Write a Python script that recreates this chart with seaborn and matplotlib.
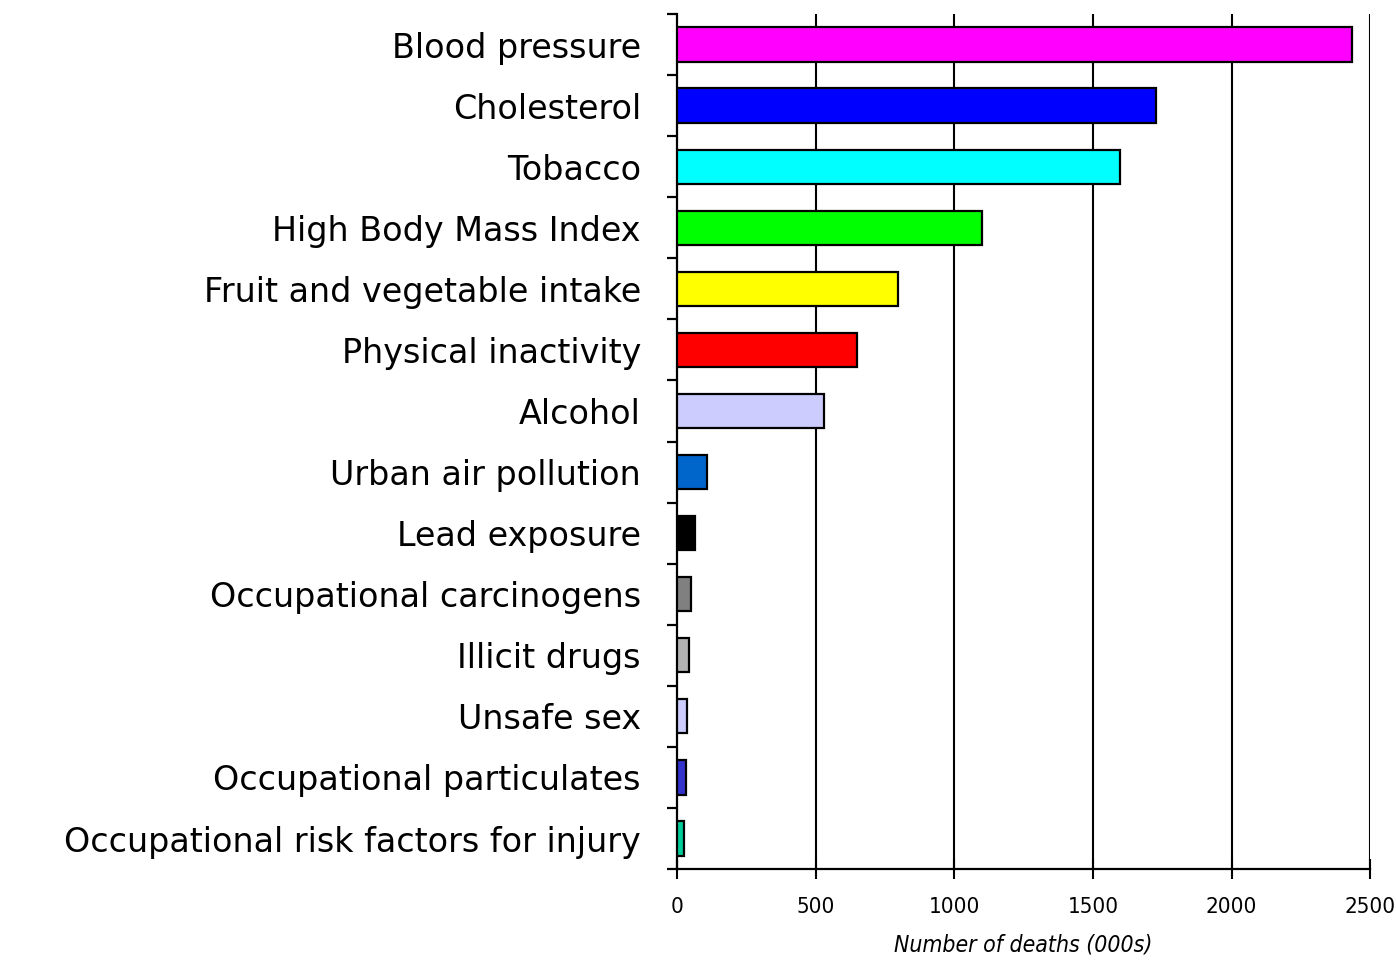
import matplotlib
matplotlib.use("Agg")
import matplotlib.pyplot as plt
import seaborn as sns
import pandas as pd
from matplotlib.ticker import FixedLocator
from matplotlib.font_manager import FontProperties

# === data ===
risk_factors = [
    "Blood pressure", "Cholesterol", "Tobacco", "High Body Mass Index",
    "Fruit and vegetable intake", "Physical inactivity", "Alcohol",
    "Urban air pollution", "Lead exposure", "Occupational carcinogens",
    "Illicit drugs", "Unsafe sex", "Occupational particulates",
    "Occupational risk factors for injury",
]
deaths = [2435, 1728, 1598, 1100, 797, 649, 530, 107, 65, 50, 44, 37, 31, 24]
bar_colors = [
    "#FF00FF", "#0000FF", "#00FFFF", "#00FF00", "#FFFF00", "#FF0000", "#CCCCFF",
    "#0066CC", "#000000", "#808080", "#B3B3B3", "#CCCCFF", "#3333CC", "#00CC99",
]
x_ticks = [0, 500, 1000, 1500, 2000, 2500]

df = pd.DataFrame({"factor": risk_factors, "deaths": deaths})

sns.set_style("white", {"xtick.bottom": True, "ytick.left": True,
                        "text.color": "black", "xtick.color": "black",
                        "ytick.color": "black", "axes.labelcolor": "black"})
plt.rcParams["font.family"] = ["DejaVu Sans"]

label_font = FontProperties(family="DejaVu Sans", stretch="normal", size=24)
tick_font = FontProperties(family="DejaVu Sans", stretch="condensed", size=16)
xlab_font = FontProperties(family="DejaVu Sans", stretch="condensed",
                           style="italic", size=16.5)

fig = plt.figure(figsize=(13.96, 9.64), dpi=100)
ax = fig.add_axes([0.485, 0.0985, 0.4965, 0.887])

sns.barplot(data=df, y="factor", x="deaths", hue="factor", palette=bar_colors,
            legend=False, width=0.56, edgecolor="black", linewidth=1.6,
            saturation=1, ax=ax, zorder=3)

ax.set_xlim(0, 2500)
ax.set_ylim(len(risk_factors) - 0.5, -0.5)

# vertical grid lines
for xv in x_ticks[1:]:
    ax.axvline(xv, color="black", lw=1.5, zorder=1)

for s in ["top", "right"]:
    ax.spines[s].set_visible(False)
for s in ["left", "bottom"]:
    ax.spines[s].set_linewidth(1.6)
    ax.spines[s].set_color("black")

# y labels at centres, ticks at category boundaries
ax.set_yticks(range(len(risk_factors)))
ax.set_yticklabels(risk_factors, fontproperties=label_font)
ax.tick_params(axis="y", which="major", length=0, pad=26)
ax.yaxis.set_minor_locator(FixedLocator([i - 0.5 for i in range(len(risk_factors) + 1)]))
ax.tick_params(axis="y", which="minor", left=True, length=7, width=1.6,
               direction="out", color="black")

ax.set_xticks(x_ticks)
ax.set_xticklabels([str(v) for v in x_ticks], fontproperties=tick_font)
ax.tick_params(axis="x", which="major", length=14, width=1.5, direction="inout",
               pad=13, color="black")
ax.set_xlabel("Number of deaths (000s)", fontproperties=xlab_font, labelpad=12)
ax.set_ylabel("")

fig.savefig("out.png", dpi=100)
